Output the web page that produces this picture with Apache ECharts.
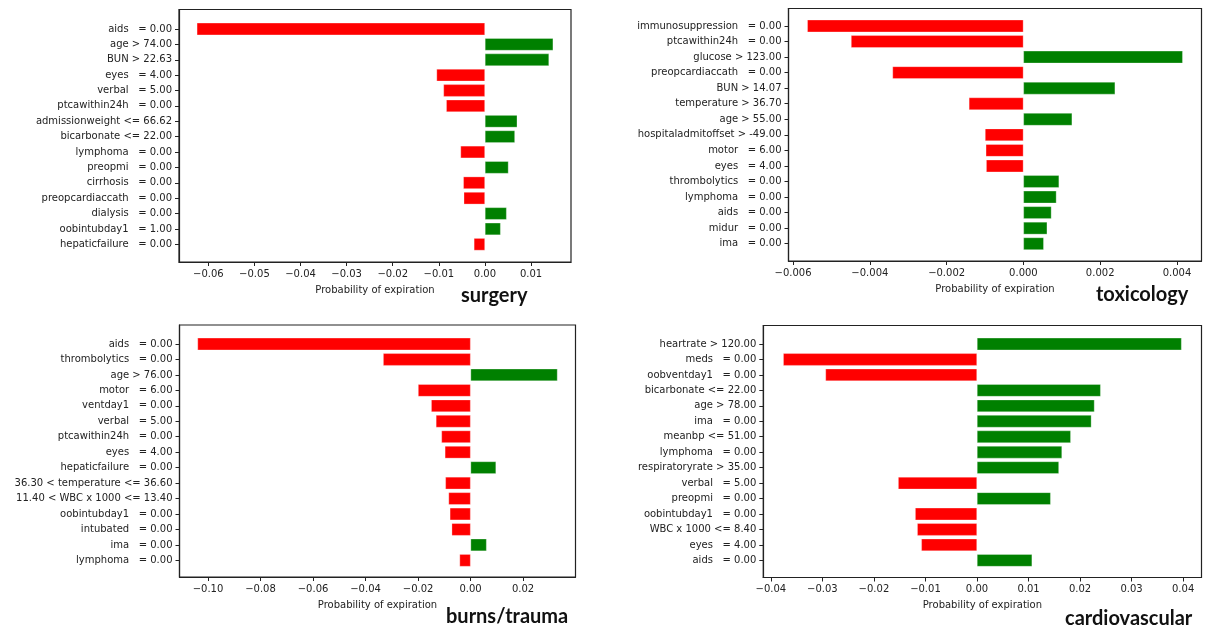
<!DOCTYPE html>
<html>
<head>
<meta charset="utf-8">
<title>LIME explanations by admission group</title>
<script src="https://cdn.jsdelivr.net/npm/echarts@6/dist/echarts.min.js"></script>
<style>
  html, body { margin: 0; padding: 0; background: #ffffff; }
  #chart { width: 1209px; height: 629px; }
</style>
</head>
<body>
<div id="chart"></div>
<script>
// ---- data: feature conditions and their local weights ----
const surgeryFeatures = [
  'aids   = 0.00', 'age > 74.00', 'BUN > 22.63', 'eyes   = 4.00', 'verbal   = 5.00',
  'ptcawithin24h   = 0.00', 'admissionweight <= 66.62', 'bicarbonate <= 22.00',
  'lymphoma   = 0.00', 'preopmi   = 0.00', 'cirrhosis   = 0.00',
  'preopcardiaccath   = 0.00', 'dialysis   = 0.00', 'oobintubday1   = 1.00',
  'hepaticfailure   = 0.00'
];
const surgeryWeights = [
  -0.0625, 0.0148, 0.0139, -0.0105, -0.0090, -0.0084, 0.0070, 0.0065,
  -0.0053, 0.0051, -0.0047, -0.0046, 0.0047, 0.0034, -0.0024
];

const toxicologyFeatures = [
  'immunosuppression   = 0.00', 'ptcawithin24h   = 0.00', 'glucose > 123.00',
  'preopcardiaccath   = 0.00', 'BUN > 14.07', 'temperature > 36.70', 'age > 55.00',
  'hospitaladmitoffset > -49.00', 'motor   = 6.00', 'eyes   = 4.00',
  'thrombolytics   = 0.00', 'lymphoma   = 0.00', 'aids   = 0.00', 'midur   = 0.00',
  'ima   = 0.00'
];
const toxicologyWeights = [
  -0.00563, -0.00449, 0.00415, -0.00341, 0.00239, -0.00142, 0.00127, -0.00100,
  -0.00098, -0.00097, 0.00093, 0.00086, 0.00073, 0.00062, 0.00053
];

const traumaFeatures = [
  'aids   = 0.00', 'thrombolytics   = 0.00', 'age > 76.00', 'motor   = 6.00',
  'ventday1   = 0.00', 'verbal   = 5.00', 'ptcawithin24h   = 0.00', 'eyes   = 4.00',
  'hepaticfailure   = 0.00', '36.30 < temperature <= 36.60',
  '11.40 < WBC x 1000 <= 13.40', 'oobintubday1   = 0.00', 'intubated   = 0.00',
  'ima   = 0.00', 'lymphoma   = 0.00'
];
const traumaWeights = [
  -0.1040, -0.0333, 0.0331, -0.0200, -0.0150, -0.0132, -0.0111, -0.0098,
  0.0097, -0.0096, -0.0084, -0.0079, -0.0072, 0.0061, -0.0042
];

const cardioFeatures = [
  'heartrate > 120.00', 'meds   = 0.00', 'oobventday1   = 0.00',
  'bicarbonate <= 22.00', 'age > 78.00', 'ima   = 0.00', 'meanbp <= 51.00',
  'lymphoma   = 0.00', 'respiratoryrate > 35.00', 'verbal   = 5.00',
  'preopmi   = 0.00', 'oobintubday1   = 0.00', 'WBC x 1000 <= 8.40',
  'eyes   = 4.00', 'aids   = 0.00'
];
const cardioWeights = [
  0.0397, -0.0376, -0.0294, 0.0240, 0.0228, 0.0222, 0.0182, 0.0165, 0.0159,
  -0.0153, 0.0143, -0.0120, -0.0116, -0.0108, 0.0107
];

// x-axis tick values for each panel
const surgeryTicks = [-0.06, -0.05, -0.04, -0.03, -0.02, -0.01, 0, 0.01];
const toxicologyTicks = [-0.006, -0.004, -0.002, 0, 0.002, 0.004];
const traumaTicks = [-0.10, -0.08, -0.06, -0.04, -0.02, 0, 0.02];
const cardioTicks = [-0.04, -0.03, -0.02, -0.01, 0, 0.01, 0.02, 0.03, 0.04];

const groupTitles = ['surgery', 'toxicology', 'burns/trauma', 'cardiovascular'];

// ---- panel layout (frame box, row band, title anchor) ----
const panels = [
  { features: surgeryFeatures, weights: surgeryWeights, ticks: surgeryTicks, decimals: 2,
    frame: { left: 179, top: 9.5, width: 392, height: 252.5 }, rows: { top: 21.3, height: 230.7 },
    title: { left: 461, top: 284 } },
  { features: toxicologyFeatures, weights: toxicologyWeights, ticks: toxicologyTicks, decimals: 3,
    frame: { left: 788.5, top: 8.5, width: 413, height: 252.5 }, rows: { top: 18.2, height: 233.3 },
    title: { left: 1096, top: 283 } },
  { features: traumaFeatures, weights: traumaWeights, ticks: traumaTicks, decimals: 2,
    frame: { left: 179.5, top: 325, width: 396, height: 252 }, rows: { top: 336.3, height: 231.8 },
    title: { left: 446, top: 605 } },
  { features: cardioFeatures, weights: cardioWeights, ticks: cardioTicks, decimals: 2,
    frame: { left: 763.3, top: 325.5, width: 438.2, height: 252 }, rows: { top: 336.3, height: 231.8 },
    title: { left: 1065, top: 607 } }
];

const POS = '#008000';
const NEG = '#ff0000';
const INK = '#222222';
const FONT = 'DejaVu Sans';

// matplotlib-style padded limits: 5% of the data span on each side
function limits(values) {
  const lo = Math.min(0, ...values);
  const hi = Math.max(0, ...values);
  const pad = (hi - lo) * 0.05;
  return { min: lo - pad, max: hi + pad };
}

function tickText(v, decimals) {
  const s = Math.abs(v).toFixed(decimals);
  return v < -1e-12 ? '\u2212' + s : s;
}

const grid = [], xAxis = [], yAxis = [], series = [], title = [];

panels.forEach((p, i) => {
  const lim = limits(p.weights);
  const n = p.features.length;
  const rowH = p.rows.height / n;
  // row-index range covered by the frame, so its y ticks sit on the row centres
  const rowMin = (p.frame.top - p.rows.top) / rowH - 0.5;
  const rowMax = (p.frame.top + p.frame.height - p.rows.top) / rowH - 0.5;
  const rowTicks = p.features.map((_, k) => k);

  const frameIdx = grid.length;
  // outer frame carrying both visible axes
  grid.push({
    left: p.frame.left, top: p.frame.top, width: p.frame.width, height: p.frame.height,
    show: true, borderColor: INK, borderWidth: 1.2, backgroundColor: 'transparent'
  });
  // inner band holding the bars, one category per row
  const rowIdx = grid.length;
  grid.push({
    left: p.frame.left, top: p.rows.top, width: p.frame.width, height: p.rows.height,
    show: false
  });

  xAxis.push({
    type: 'value', gridIndex: frameIdx, min: lim.min, max: lim.max, position: 'bottom',
    name: 'Probability of expiration', nameLocation: 'middle', nameGap: 23,
    nameTextStyle: { fontFamily: FONT, fontSize: 10, color: '#222' },
    axisLine: { show: true, onZero: false, lineStyle: { color: INK, width: 1.2 } },
    axisTick: { show: true, length: 4, lineStyle: { color: INK, width: 1 }, customValues: p.ticks },
    axisLabel: {
      show: true, margin: 7, fontFamily: FONT, fontSize: 10, color: '#222',
      customValues: p.ticks, formatter: v => tickText(v, p.decimals)
    },
    splitLine: { show: false }
  });
  yAxis.push({
    type: 'value', gridIndex: frameIdx, min: rowMin, max: rowMax, inverse: true, position: 'left',
    axisLine: { show: true, onZero: false, lineStyle: { color: INK, width: 1.2 } },
    axisTick: { show: true, length: 4, lineStyle: { color: INK, width: 1 }, customValues: rowTicks },
    axisLabel: {
      show: true, margin: 7, fontFamily: FONT, fontSize: 10, color: '#222',
      customValues: rowTicks, formatter: v => p.features[Math.round(v)]
    },
    splitLine: { show: false }
  });

  xAxis.push({
    type: 'value', gridIndex: rowIdx, min: lim.min, max: lim.max, show: false
  });
  yAxis.push({
    type: 'category', gridIndex: rowIdx, data: p.features, inverse: true, show: false
  });

  series.push({
    type: 'bar', xAxisIndex: i * 2 + 1, yAxisIndex: i * 2 + 1,
    data: p.weights, barWidth: '80%',
    itemStyle: {
      color: params => (params.value < 0 ? NEG : POS),
      borderColor: 'rgba(255,255,255,0.6)', borderWidth: 0.5
    },
    silent: true, animation: false
  });

  title.push({
    text: groupTitles[i], left: p.title.left, top: p.title.top, padding: 0,
    textStyle: { fontFamily: 'Lato', fontWeight: 'bold', fontSize: 20, lineHeight: 24, color: '#111' }
  });
});

const chart = echarts.init(document.getElementById('chart'), null, { renderer: 'canvas' });
chart.setOption({
  backgroundColor: '#ffffff',
  animation: false,
  title, grid, xAxis, yAxis, series
});
</script>
</body>
</html>
